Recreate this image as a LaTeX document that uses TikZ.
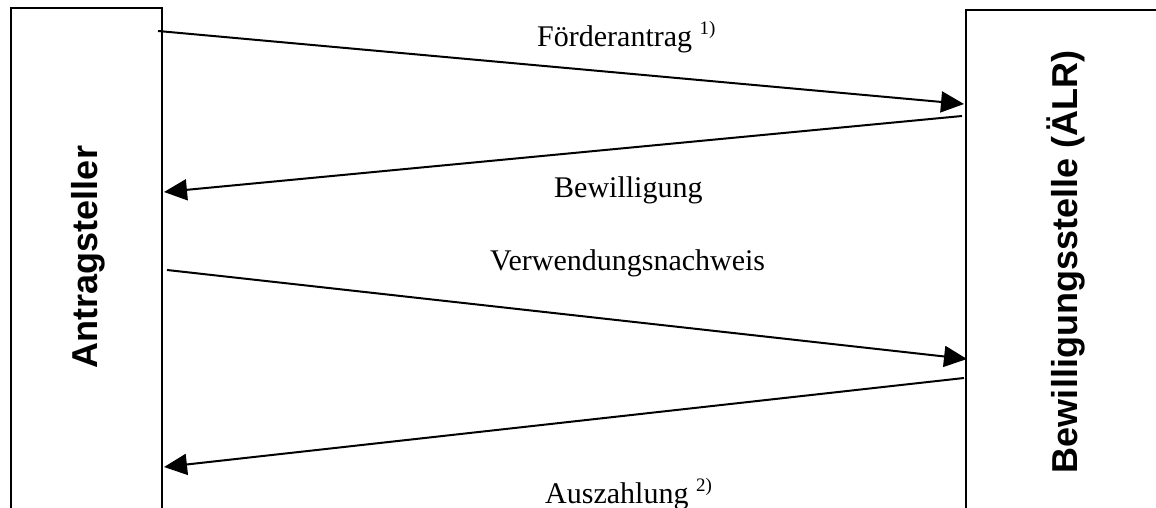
\documentclass[tikz,border=0pt]{standalone}
\usepackage{fontspec}
\setmainfont{Liberation Serif}
\newfontfamily\arialfont{Liberation Sans}
\usetikzlibrary{arrows.meta}
\newcommand{\supnote}[1]{\raisebox{12pt}{\fontsize{19}{19}\selectfont #1}}
\begin{document}
\begin{tikzpicture}[x=1pt,y=-1pt,
  party/.style={draw,line width=2pt,rectangle,inner sep=0pt},
  partylabel/.style={rotate=90,anchor=base,font=\arialfont\bfseries\fontsize{36}{40}\selectfont,inner sep=0pt},
  msg/.style={line width=2pt,-{Triangle[length=23pt,width=21pt]}},
  msglabel/.style={font=\fontsize{30}{34}\selectfont,inner sep=0pt,anchor=base west}]
\useasboundingbox (0,0) rectangle (1156,508);
\clip (0,0) rectangle (1156,508);
\fill[white] (0,0) rectangle (1156,508);
% boxes
\node[party,minimum width=151pt,minimum height=552pt] (ant) at (86.5,284) {};
\node[party,minimum width=234pt,minimum height=550pt] (bew) at (1083,285) {};
\node[partylabel] (antl) at (97,257) {Antragsteller};
\node[partylabel] (bewl) at (1077,262) {Bewilligungsstelle (ÄLR)};
% endpoints
\coordinate (a1s) at (158,31);
\coordinate (a1e) at (964,104);
\coordinate (a2s) at (962,116);
\coordinate (a2e) at (164,192);
\coordinate (a3s) at (167,270);
\coordinate (a3e) at (967,359);
\coordinate (a4s) at (964,378);
\coordinate (a4e) at (164,467);
\draw[msg] (a1s) -- (a1e);
\draw[msg] (a2s) -- (a2e);
\draw[msg] (a3s) -- (a3e);
\draw[msg] (a4s) -- (a4e);
% labels
\node[msglabel] (l1) at (537,47) {Förderantrag \supnote{1)}};
\node[msglabel] (l2) at (554,197) {Bewilligung};
\node[msglabel] (l3) at (490,270) {Verwendungsnachweis};
\node[msglabel] (l4) at (545,503) {Auszahlung \supnote{2)}};
\end{tikzpicture}
\end{document}
